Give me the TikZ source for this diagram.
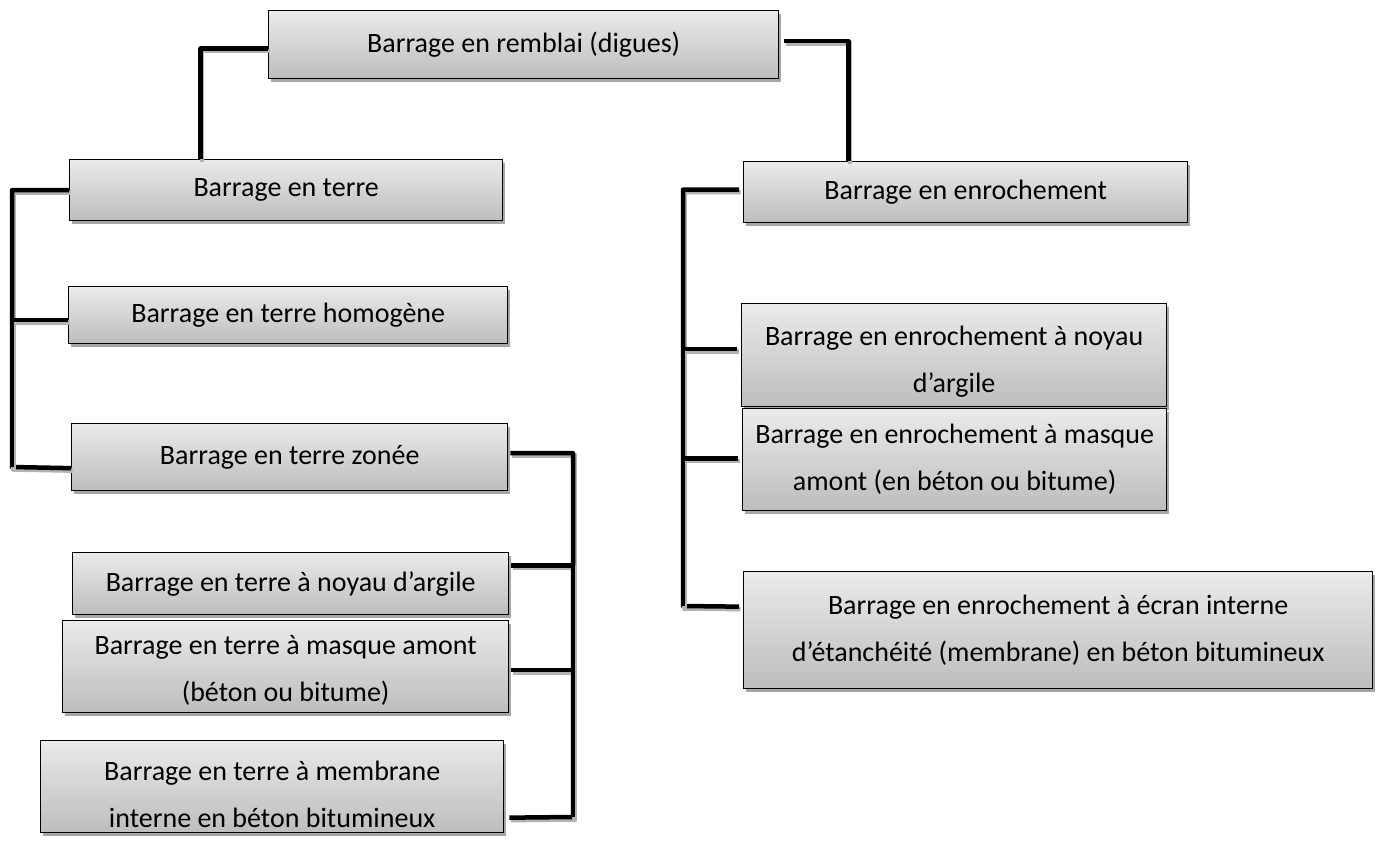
\documentclass[tikz,border=0pt]{standalone}
\usepackage{fontspec}
\setmainfont{Carlito}
\usetikzlibrary{shadows}
\begin{document}
\begin{tikzpicture}[x=1pt,y=-1pt,
  box/.style={draw=black, line width=1.3pt, top color=black!8, bottom color=black!26,
    inner sep=0pt, anchor=north west, align=center,
    font=\fontsize{28}{47}\selectfont,
    drop shadow={shadow xshift=2pt, shadow yshift=-3pt, fill=black!35, opacity=1}},
  conn/.style={line width=4.5pt, line join=round,
    preaction={draw=black!30, line width=4.5pt, transform canvas={xshift=1.5pt,yshift=-2.5pt}}}
]
\fill[white] (0,0) rectangle (1379,844);
\useasboundingbox (0,0) rectangle (1379,844);

\coordinate (tL) at (12,467);
\coordinate (tZ) at (573,817);
\coordinate (tR) at (683,606);

% nodes
\node[box, minimum width=510pt, minimum height=68pt] (top) at (268,10) {Barrage en remblai (digues)};
\node[box, minimum width=433pt, minimum height=61pt] (terre) at (69,159) {Barrage en terre};
\node[box, minimum width=444pt, minimum height=61pt] (enroch) at (743,161) {Barrage en enrochement};
\node[box, minimum width=439pt, minimum height=57pt] (homog) at (68,286) {Barrage en terre homogène};
\node[box, minimum width=436pt, minimum height=67pt] (zonee) at (71,423) {Barrage en terre zonée};
\node[box, minimum width=436pt, minimum height=62pt] (tnoyau) at (72,552) {Barrage en terre à noyau d’argile};
\node[box, minimum width=446pt, minimum height=92pt, text height=74pt] (tmasque) at (62,620) {Barrage en terre à masque amont\\(béton ou bitume)};
\node[box, minimum width=463pt, minimum height=92pt, text height=82pt] (tmembr) at (40,740) {Barrage en terre à membrane\\interne en béton bitumineux};
\node[box, minimum width=425pt, minimum height=103pt, text height=80pt] (enoyau) at (741,303) {Barrage en enrochement à noyau\\d’argile};
\node[box, minimum width=424pt, minimum height=102pt] (emasque) at (742,408) {Barrage en enrochement à masque\\amont (en béton ou bitume)};
\node[box, minimum width=629pt, minimum height=117pt] (ecran) at (743,571) {Barrage en enrochement à écran interne\\d’étanchéité (membrane) en béton bitumineux};

% top connectors
\draw[conn] ([yshift=-4pt]top.west) -| ([xshift=-85.5pt]terre.north);
\draw[conn] ([xshift=5pt,yshift=3.5pt]top.east) -| ([xshift=-117pt]enroch.north);

% left trunk
\draw[conn] (terre.west) -| (tL) -- ([yshift=-11pt]zonee.west);
\draw[conn] ([yshift=-5pt]homog.west) -| (tL);

% trunk right of zonée
\draw[conn] ([xshift=2pt,yshift=4pt]zonee.east) -| (tZ) -- ([xshift=5pt,yshift=-31pt]tmembr.east);
\draw[conn] ([xshift=2pt,yshift=18pt]tnoyau.east) -| (tZ);
\draw[conn] ([xshift=2pt,yshift=-3.5pt]tmasque.east) -| (tZ);

% right trunk
\draw[conn] ([xshift=-4pt,yshift=2.5pt]enroch.west) -| (tR) -- ([xshift=-4pt,yshift=23.5pt]ecran.west);
\draw[conn] ([xshift=-4pt,yshift=6pt]enoyau.west) -| (tR);
\draw[conn] ([xshift=-4pt,yshift=1pt]emasque.west) -| (tR);
\end{tikzpicture}
\end{document}
